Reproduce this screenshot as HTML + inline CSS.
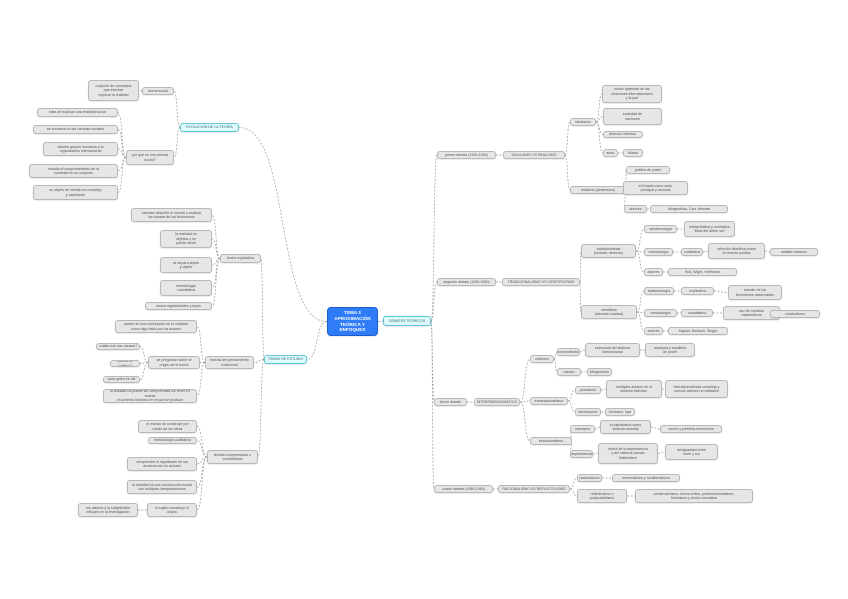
<!DOCTYPE html>
<html><head><meta charset="utf-8">
<style>
body{margin:0;background:#fff;}
#w{position:relative;width:848px;height:599px;overflow:hidden;background:#fff;font-family:"Liberation Sans",sans-serif;}
.n{position:absolute;box-sizing:border-box;background:#e6e6e6;border:1px solid #b8b8b8;border-radius:3px;font-size:3.6px;line-height:4.4px;color:#555;display:flex;align-items:center;justify-content:center;text-align:center;overflow:hidden;padding:0 1px;box-shadow:0 0.5px 1px rgba(0,0,0,.15);}
.c{background:#dffafd;border-color:#5cc8d6;color:#2a6a74;}
.m{background:#2f7cf6;border-color:#1d5fd0;color:#fff;font-size:4.6px;line-height:5.6px;font-weight:bold;border-radius:4px;}
svg{position:absolute;left:0;top:0;}
</style></head><body><div id="w">
<svg id="s" width="848" height="599"></svg>

<div class="n m" id="m" style="left:327px;top:307px;width:51px;height:29px">TEMA 3<br>APROXIMACIÓN<br>TEÓRICA Y ENFOQUES</div>
<div class="n c" id="R" style="left:383px;top:316px;width:48px;height:10px">DEBATES TEÓRICOS</div>
<div class="n c" id="L1" style="left:180px;top:123px;width:59px;height:9px">EVOLUCIÓN DE LA TEORÍA</div>
<div class="n c" id="L2" style="left:264px;top:355px;width:43px;height:9px">TEMAS DE ESTUDIO</div>

<div class="n" id="a1" style="left:142px;top:87px;width:32px;height:8px">teoría social</div>
<div class="n" id="a11" style="left:88px;top:80px;width:51px;height:21px">conjunto de conceptos<br>que intentan<br>explicar la realidad</div>
<div class="n" id="a2" style="left:126px;top:150px;width:48px;height:15px">por qué es una ciencia<br>social?</div>
<div class="n" id="a21" style="left:37px;top:108px;width:81px;height:9px">trata de explicar una realidad social</div>
<div class="n" id="a22" style="left:33px;top:125px;width:85px;height:9px">se enmarca en las ciencias sociales</div>
<div class="n" id="a23" style="left:43px;top:142px;width:75px;height:14px">estudia grupos humanos y la<br>organización internacional</div>
<div class="n" id="a24" style="left:29px;top:164px;width:89px;height:14px">estudia el comportamiento de la<br>sociedad en su conjunto</div>
<div class="n" id="a25" style="left:33px;top:185px;width:85px;height:15px">su objeto de estudio es complejo<br>y cambiante</div>

<div class="n" id="b1" style="left:220px;top:254px;width:41px;height:9px">teoría explicativa</div>
<div class="n" id="b11" style="left:131px;top:208px;width:81px;height:14px">intentan describir el mundo y explicar<br>las causas de los fenómenos</div>
<div class="n" id="b12" style="left:160px;top:230px;width:52px;height:18px">la realidad es<br>objetiva y se<br>puede medir</div>
<div class="n" id="b13" style="left:160px;top:257px;width:52px;height:16px">se separa sujeto<br>y objeto</div>
<div class="n" id="b14" style="left:160px;top:280px;width:52px;height:16px">metodología<br>cuantitativa</div>
<div class="n" id="b15" style="left:145px;top:302px;width:67px;height:8px">busca regularidades y leyes</div>

<div class="n" id="c1" style="left:205px;top:356px;width:49px;height:13px">teorías del pensamiento<br>tradicional</div>
<div class="n" id="c11" style="left:115px;top:320px;width:82px;height:13px">parten de una concepción de la realidad<br>como algo dado por los actores</div>
<div class="n" id="c12" style="left:148px;top:356px;width:52px;height:13px">se preguntan sobre el<br>origen de la teoría</div>
<div class="n" id="c121" style="left:96px;top:343px;width:44px;height:7px">cuáles son sus causas?</div>
<div class="n" id="c122" style="left:110px;top:360px;width:30px;height:7px">¿cómo se justifica?</div>
<div class="n" id="c123" style="left:103px;top:376px;width:37px;height:7px">para quién es útil</div>
<div class="n" id="c13" style="left:103px;top:389px;width:94px;height:14px">la realidad no puede ser comprendida sin tener en cuenta<br>el contexto histórico en el que se produce</div>

<div class="n" id="d1" style="left:207px;top:450px;width:51px;height:14px">teorías comprensivas o<br>constitutivas</div>
<div class="n" id="d11" style="left:138px;top:420px;width:59px;height:13px">el mundo se construye por<br>medio de las ideas</div>
<div class="n" id="d12" style="left:148px;top:437px;width:49px;height:7px">metodología cualitativa</div>
<div class="n" id="d13" style="left:127px;top:457px;width:70px;height:14px">comprender el significado de las<br>acciones de los actores</div>
<div class="n" id="d14" style="left:127px;top:480px;width:70px;height:14px">la realidad es una construcción social<br>con múltiples interpretaciones</div>
<div class="n" id="d15" style="left:147px;top:503px;width:50px;height:14px">el sujeto construye el<br>objeto</div>
<div class="n" id="d151" style="left:78px;top:503px;width:60px;height:14px">los valores y la subjetividad<br>influyen en la investigación</div>

<div class="n" id="e" style="left:437px;top:151px;width:59px;height:8px">primer debate (1920-1930)</div>
<div class="n" id="e1" style="left:503px;top:151px;width:62px;height:8px">IDEALISMO VS REALISMO</div>
<div class="n" id="e11" style="left:570px;top:118px;width:26px;height:8px">idealismo</div>
<div class="n" id="e111" style="left:602px;top:85px;width:60px;height:18px">visión optimista de las<br>relaciones internacionales<br>y la paz</div>
<div class="n" id="e112" style="left:603px;top:108px;width:59px;height:17px">sociedad de<br>naciones</div>
<div class="n" id="e113" style="left:603px;top:131px;width:40px;height:7px">derecho internac.</div>
<div class="n" id="e114" style="left:603px;top:149px;width:15px;height:8px">autor</div>
<div class="n" id="e1141" style="left:623px;top:149px;width:20px;height:8px">Wilson</div>
<div class="n" id="e12" style="left:570px;top:186px;width:56px;height:8px">realismo (pesimismo)</div>
<div class="n" id="e121" style="left:626px;top:166px;width:44px;height:8px">política de poder</div>
<div class="n" id="e122" style="left:623px;top:181px;width:65px;height:14px">el Estado como actor<br>principal y racional</div>
<div class="n" id="e123" style="left:624px;top:205px;width:23px;height:8px">autores</div>
<div class="n" id="e1231" style="left:650px;top:205px;width:78px;height:8px">Morgenthau, Carr, Kennan</div>

<div class="n" id="f" style="left:437px;top:278px;width:59px;height:8px">segundo debate (1950-1960)</div>
<div class="n" id="f1" style="left:502px;top:278px;width:78px;height:8px">TRADICIONALISMO VS CIENTIFICISMO</div>
<div class="n" id="f11" style="left:581px;top:244px;width:55px;height:14px">tradicionalistas<br>(historia, derecho)</div>
<div class="n" id="f111" style="left:644px;top:225px;width:33px;height:8px">epistemología</div>
<div class="n" id="f1111" style="left:684px;top:221px;width:51px;height:16px">interpretativa y normativa<br>"ideal del deber ser"</div>
<div class="n" id="f112" style="left:644px;top:248px;width:29px;height:8px">metodología</div>
<div class="n" id="f1121" style="left:681px;top:248px;width:22px;height:8px">cualitativa</div>
<div class="n" id="f1122" style="left:708px;top:243px;width:57px;height:16px">reflexión filosófica sobre<br>la historia política</div>
<div class="n" id="f1123" style="left:770px;top:248px;width:48px;height:8px">análisis histórico</div>
<div class="n" id="f113" style="left:644px;top:268px;width:19px;height:8px">autores</div>
<div class="n" id="f1131" style="left:668px;top:268px;width:69px;height:8px">Bull, Wight, Hoffmann</div>
<div class="n" id="f12" style="left:581px;top:305px;width:56px;height:14px">científicos<br>(ciencias exactas)</div>
<div class="n" id="f121" style="left:644px;top:287px;width:30px;height:8px">epistemología</div>
<div class="n" id="f1211" style="left:681px;top:287px;width:33px;height:8px">explicativa</div>
<div class="n" id="f1212" style="left:728px;top:285px;width:54px;height:15px">estudio de los<br>fenómenos observables</div>
<div class="n" id="f122" style="left:644px;top:309px;width:33px;height:8px">metodología</div>
<div class="n" id="f1221" style="left:681px;top:309px;width:32px;height:8px">cuantitativa</div>
<div class="n" id="f1222" style="left:723px;top:306px;width:57px;height:14px">uso de modelos<br>matemáticos</div>
<div class="n" id="f1223" style="left:770px;top:310px;width:50px;height:8px">conductismo</div>
<div class="n" id="f123" style="left:644px;top:327px;width:19px;height:8px">autores</div>
<div class="n" id="f1231" style="left:668px;top:327px;width:60px;height:8px">Kaplan, Deutsch, Singer</div>

<div class="n" id="g" style="left:434px;top:398px;width:33px;height:8px">tercer debate</div>
<div class="n" id="g1" style="left:474px;top:398px;width:46px;height:8px">INTERPARADIGMÁTICO</div>
<div class="n" id="g11" style="left:530px;top:355px;width:24px;height:8px">realismo</div>
<div class="n" id="g111" style="left:557px;top:348px;width:23px;height:8px">neorrealismo</div>
<div class="n" id="g1111" style="left:585px;top:343px;width:55px;height:14px">estructura del sistema<br>internacional</div>
<div class="n" id="g1112" style="left:645px;top:343px;width:50px;height:14px">anarquía y equilibrio<br>de poder</div>
<div class="n" id="g112" style="left:557px;top:368px;width:24px;height:8px">clásico</div>
<div class="n" id="g1121" style="left:587px;top:368px;width:25px;height:8px">Morgenthau</div>
<div class="n" id="g12" style="left:530px;top:397px;width:38px;height:8px">transnacionalismo</div>
<div class="n" id="g121" style="left:575px;top:386px;width:26px;height:8px">pluralismo</div>
<div class="n" id="g1211" style="left:606px;top:380px;width:56px;height:18px">múltiples actores en el<br>sistema internac.</div>
<div class="n" id="g1212" style="left:665px;top:380px;width:63px;height:18px">interdependencia compleja y<br>nuevos actores no estatales</div>
<div class="n" id="g122" style="left:575px;top:408px;width:26px;height:8px">interdepend.</div>
<div class="n" id="g1221" style="left:605px;top:408px;width:30px;height:8px">Keohane, Nye</div>
<div class="n" id="g13" style="left:530px;top:437px;width:42px;height:8px">estructuralismo</div>
<div class="n" id="g131" style="left:570px;top:425px;width:25px;height:8px">marxismo</div>
<div class="n" id="g1311" style="left:600px;top:420px;width:51px;height:14px">el capitalismo como<br>sistema mundial</div>
<div class="n" id="g1312" style="left:660px;top:425px;width:62px;height:8px">centro y periferia económica</div>
<div class="n" id="g132" style="left:570px;top:450px;width:23px;height:8px">dependencia</div>
<div class="n" id="g1321" style="left:598px;top:443px;width:60px;height:21px">teoría de la dependencia<br>y del sistema-mundo<br>Wallerstein</div>
<div class="n" id="g1322" style="left:665px;top:444px;width:53px;height:16px">desigualdad entre<br>norte y sur</div>

<div class="n" id="h" style="left:434px;top:485px;width:59px;height:8px">cuarto debate (1980-1990)</div>
<div class="n" id="h1" style="left:498px;top:485px;width:72px;height:8px">RACIONALISMO VS REFLECTIVISMO</div>
<div class="n" id="h11" style="left:577px;top:474px;width:25px;height:8px">racionalismo</div>
<div class="n" id="h111" style="left:612px;top:474px;width:68px;height:8px">neorrealismo y neoliberalismo</div>
<div class="n" id="h12" style="left:577px;top:489px;width:50px;height:14px">reflectivismo o<br>postpositivismo</div>
<div class="n" id="h121" style="left:635px;top:489px;width:118px;height:14px">constructivismo, teoría crítica, postestructuralismo,<br>feminismo y teoría normativa</div>
</div>
<script>
var E=[["m","R"],["m","L1"],["m","L2"],["L1","a1"],["a1","a11"],["L1","a2"],["a2","a21"],["a2","a22"],["a2","a23"],["a2","a24"],["a2","a25"],
["L2","b1"],["b1","b11"],["b1","b12"],["b1","b13"],["b1","b14"],["b1","b15"],["L2","c1"],["c1","c11"],["c1","c12"],["c12","c121"],["c12","c122"],["c12","c123"],["c1","c13"],
["L2","d1"],["d1","d11"],["d1","d12"],["d1","d13"],["d1","d14"],["d1","d15"],["d15","d151"],
["R","e"],["e","e1"],["e1","e11"],["e11","e111"],["e11","e112"],["e11","e113"],["e11","e114"],["e114","e1141"],["e1","e12"],["e12","e121"],["e12","e122"],["e12","e123"],["e123","e1231"],
["R","f"],["f","f1"],["f1","f11"],["f11","f111"],["f111","f1111"],["f11","f112"],["f112","f1121"],["f1121","f1122"],["f1122","f1123"],["f11","f113"],["f113","f1131"],
["f1","f12"],["f12","f121"],["f121","f1211"],["f1211","f1212"],["f12","f122"],["f122","f1221"],["f1221","f1222"],["f1222","f1223"],["f12","f123"],["f123","f1231"],
["R","g"],["g","g1"],["g1","g11"],["g11","g111"],["g111","g1111"],["g1111","g1112"],["g11","g112"],["g112","g1121"],["g1","g12"],["g12","g121"],["g121","g1211"],["g1211","g1212"],["g12","g122"],["g122","g1221"],
["g1","g13"],["g13","g131"],["g131","g1311"],["g1311","g1312"],["g13","g132"],["g132","g1321"],["g1321","g1322"],
["R","h"],["h","h1"],["h1","h11"],["h11","h111"],["h1","h12"],["h12","h121"]];
var s=document.getElementById("s"),o="";
function b(id){var e=document.getElementById(id);return{l:e.offsetLeft,t:e.offsetTop,w:e.offsetWidth,h:e.offsetHeight};}
E.forEach(function(p){var a=b(p[0]),c=b(p[1]),x1,x2,y1=a.t+a.h/2,y2=c.t+c.h/2;
if(c.l>a.l){x1=a.l+a.w;x2=c.l;}else{x1=a.l;x2=c.l+c.w;}
var d=(x2-x1)*0.6;
o+='<path d="M'+x1+' '+y1+' C'+(x1+d)+' '+y1+' '+(x2-d)+' '+y2+' '+x2+' '+y2+'" fill="none" stroke="#9a9a9a" stroke-width="0.7" stroke-dasharray="2,1.5"/>';});
s.innerHTML=o;
</script>
</body></html>
